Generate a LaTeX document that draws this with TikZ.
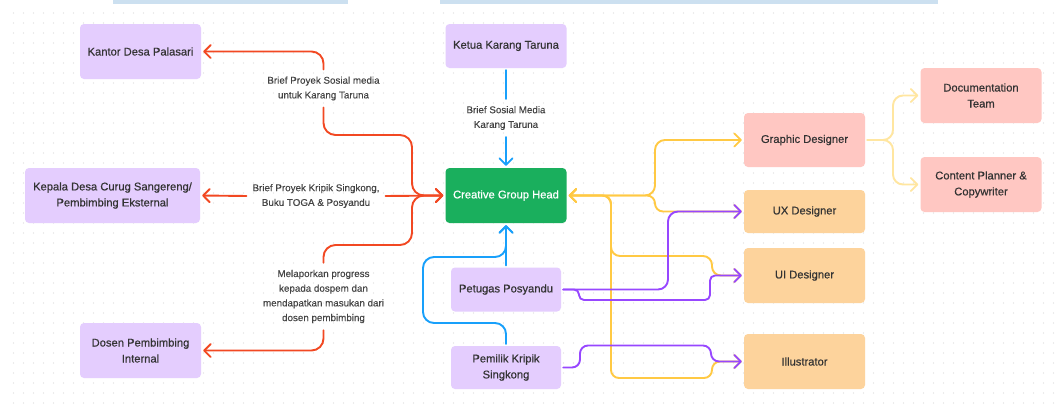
\documentclass[tikz,border=0pt]{standalone}
\usepackage{fontspec}
\setmainfont{Liberation Sans}
\newfontfamily\medfont{Liberation Sans}[FakeBold=0.45]
\newfontfamily\lblfont{Liberation Sans}[FakeBold=0.2]
\usetikzlibrary{arrows.meta}
\definecolor{purplebox}{HTML}{E4CDFE}
\definecolor{greenbox}{HTML}{1AAF5D}
\definecolor{pinkbox}{HTML}{FFC7C2}
\definecolor{peachbox}{HTML}{FDD39C}
\definecolor{redline}{HTML}{F24822}
\definecolor{blueline}{HTML}{18A0FB}
\definecolor{yellowline}{HTML}{FFC943}
\definecolor{purpleline}{HTML}{9747FF}
\definecolor{paleyellow}{HTML}{FFE6A0}
\definecolor{barcol}{HTML}{CCE0F0}
\definecolor{dotcol}{HTML}{D9D9D9}
\definecolor{textcol}{HTML}{333333}
\definecolor{labelcol}{HTML}{444444}
\begin{document}
\begin{tikzpicture}[x=1pt,y=-1pt,
  box/.style={rounded corners=4pt, inner sep=0pt, align=center, text=textcol,
    font=\medfont\fontsize{11.2}{16}\selectfont},
  pbox/.style={box, fill=purplebox},
  gbox/.style={box, fill=greenbox, text=white},
  kbox/.style={box, fill=pinkbox},
  obox/.style={box, fill=peachbox},
  lbl/.style={inner xsep=4pt, inner ysep=5pt, align=center, text=labelcol,
    font=\lblfont\fontsize{9.8}{14.7}\selectfont},
  tip/.tip={Straight Barb[length=6.5pt,width=13pt,round]},
  conn/.style={line width=1.9pt, line cap=round, line join=round, shorten >=2pt, shorten <=2pt},
  redc/.style={conn, draw=redline, rounded corners=12pt},
  bluec/.style={conn, draw=blueline, rounded corners=11pt},
  yelc/.style={conn, draw=yellowline},
  purc/.style={conn, draw=purpleline},
  palec/.style={conn, draw=paleyellow, rounded corners=10pt},
]
\useasboundingbox (0,0) rectangle (1057,408);
\fill[white] (0,0) rectangle (1057,408);
\foreach \i in {0,...,104} {
  \foreach \j in {0,...,39} {
    \fill[dotcol] (13.5+10*\i, 13+10*\j) circle (0.6);
  }
}
\fill[barcol] (113,0) rectangle (348,3.5);
\fill[barcol] (440,0) rectangle (938,3.5);

% nodes
\node[pbox, minimum width=121pt, minimum height=55pt] (kantor) at (140.5,51.5) {Kantor Desa Palasari};
\node[pbox, minimum width=121pt, minimum height=44pt] (ketua) at (506,46) {Ketua Karang Taruna};
\node[pbox, minimum width=175pt, minimum height=55pt] (kepala) at (112.5,195.5) {Kepala Desa Curug Sangereng/\\Pembimbing Eksternal};
\node[gbox, minimum width=121pt, minimum height=55pt] (cgh) at (506,195.5) {Creative Group Head};
\node[pbox, minimum width=121pt, minimum height=55pt] (dosen) at (140.5,350.5) {Dosen Pembimbing\\Internal};
\node[pbox, minimum width=110pt, minimum height=44pt] (petugas) at (506,289.5) {Petugas Posyandu};
\node[pbox, minimum width=110pt, minimum height=43pt] (pemilik) at (506,367.5) {Pemilik Kripik\\Singkong};
\node[kbox, minimum width=121pt, minimum height=54pt] (gd) at (804.5,140) {Graphic Designer};
\node[obox, minimum width=121pt, minimum height=43pt] (ux) at (804.5,211.5) {UX Designer};
\node[obox, minimum width=121pt, minimum height=55pt] (ui) at (804.5,275.5) {UI Designer};
\node[obox, minimum width=121pt, minimum height=55pt] (ill) at (804.5,361.5) {Illustrator};
\node[kbox, minimum width=121pt, minimum height=55pt] (doc) at (981,95.5) {Documentation\\Team};
\node[kbox, minimum width=121pt, minimum height=55pt] (cp) at (981,184.5) {Content Planner \&\\Copywriter};

% labels
\node[lbl] (l1) at (323.5,88.5) {Brief Proyek Sosial media\\untuk Karang Taruna};
\node[lbl] (l2) at (316,196) {Brief Proyek Kripik Singkong,\\Buku TOGA \& Posyandu};
\node[lbl] (l3) at (323.5,296.5) {Melaporkan progress\\kepada dospem dan\\mendapatkan masukan dari\\dosen pembimbing};
\node[lbl] (l4) at (506,118) {Brief Sosial Media\\Karang Taruna};

% red connectors
\draw[redc, tip-] (kantor.east) -- (323.5,51.5) -- (l1.north);
\draw[redc, -tip] (l1.south) -- (323.5,135) -- (412,135) -- (412,195.5) -- (cgh.west);
\draw[redc, tip-] (kepala.east) -- (l2.west);
\draw[redc, -tip] (l2.east) -- (cgh.west);
\draw[redc, tip-] (dosen.east) -- (323.5,350.5) -- (l3.south);
\draw[redc, -tip] (l3.north) -- (323.5,245) -- (412,245) -- (412,195.5) -- (cgh.west);

% blue connectors
\draw[bluec] (ketua.south) -- (l4.north);
\draw[bluec, -tip] (l4.south) -- (cgh.north);
\draw[bluec, -tip] (petugas.north) -- (cgh.south);
\draw[bluec, -tip] (pemilik.north) -- (506,323) -- (423,323) -- (423,257) -- (506,257) -- (cgh.south);

% yellow connectors
\draw[yelc, rounded corners=10pt, tip-tip] (cgh.east) -- (655,195.5) -- (655,140) -- (gd.west);
\draw[yelc, rounded corners=8pt, tip-tip] (cgh.east) -- (655,195.5) -- (655,211.5) -- (ux.west);
\draw[yelc, rounded corners=9pt, tip-tip] (cgh.east) -- (611,195.5) -- (611,256) -- (712,256) -- (712,275.5) -- (ui.west);
\draw[yelc, rounded corners=8pt, tip-tip] (cgh.east) -- (611,195.5) -- (611,378) -- (712,378) -- (712,361.5) -- (ill.west);

% purple connectors
\draw[purc, rounded corners=10pt, -tip] (petugas.east) -- (668,289.5) -- (668,211.5) -- (ux.west);
\draw[purc, rounded corners=5pt, -tip] (petugas.east) -- (579,289.5) -- (579,300) -- (710,300) -- (710,275.5) -- (ui.west);
\draw[purc, rounded corners=8pt, -tip] (pemilik.east) -- (580,367.5) -- (580,345.5) -- (711,345.5) -- (711,361.5) -- (ill.west);

% pale yellow connectors
\draw[palec, -tip] (gd.east) -- (893,140) -- (893,95.5) -- (doc.west);
\draw[palec, -tip] (gd.east) -- (893,140) -- (893,184.5) -- (cp.west);
\end{tikzpicture}
\end{document}
